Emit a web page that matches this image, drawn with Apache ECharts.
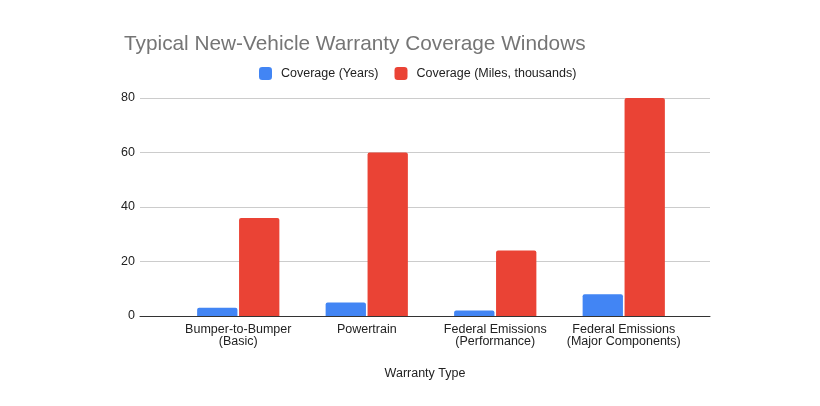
<!DOCTYPE html>
<html>
<head>
<meta charset="utf-8">
<script src="https://cdn.jsdelivr.net/npm/echarts@6/dist/echarts.min.js"></script>
<style>
  html, body { margin: 0; padding: 0; background: #fff; }
  #chart { width: 820px; height: 406px; }
</style>
</head>
<body>
<div id="chart"></div>
<script>
const categories = [
  'Bumper-to-Bumper\n(Basic)',
  'Powertrain',
  'Federal Emissions\n(Performance)',
  'Federal Emissions\n(Major Components)',
]
const years = [3, 5, 2, 8]
const miles = [36, 60, 24, 80]
const yTicks = { min: 0, max: 80, interval: 20 }

const font = 'Liberation Sans, Arial, sans-serif'
const chart = echarts.init(document.getElementById('chart'), null, { renderer: 'canvas' })

chart.setOption({
  animation: false,
  title: {
    text: 'Typical New-Vehicle Warranty Coverage Windows',
    left: 119,
    top: 29,
    textStyle: { fontFamily: font, fontSize: 20.8, fontWeight: 'normal', color: '#757575' },
  },
  legend: {
    top: 62,
    left: 254,
    itemWidth: 13,
    itemHeight: 13,
    itemGap: 16,
    icon: 'roundRect',
    textStyle: { fontFamily: font, fontSize: 12.5, color: '#222', padding: [0, 0, 0, 4] },
    data: ['Coverage (Years)', 'Coverage (Miles, thousands)'],
  },
  grid: [
    { left: 140, right: 110, top: 98, bottom: 90 },
    { left: 174, right: 132, top: 98, bottom: 90 },
  ],
  xAxis: [
    {
      gridIndex: 0,
      type: 'category',
      data: [''],
      axisLine: { lineStyle: { color: '#333' } },
      axisTick: { show: false },
      axisLabel: { show: false },
      name: 'Warranty Type',
      nameLocation: 'middle',
      nameGap: 51,
      nameTextStyle: { fontFamily: font, fontSize: 12.5, color: '#222' },
    },
    {
      gridIndex: 1,
      type: 'category',
      data: categories,
      axisLine: { show: false },
      axisTick: { show: false },
      axisLabel: { fontFamily: font, fontSize: 12.5, color: '#222', margin: 7, lineHeight: 12.5, interval: 0 },
    },
  ],
  yAxis: [
    {
      gridIndex: 0,
      type: 'value',
      ...yTicks,
      axisLine: { show: false },
      axisTick: { show: false },
      axisLabel: { fontFamily: font, fontSize: 12.5, color: '#222', margin: 5 },
      splitLine: { lineStyle: { color: '#ccc' } },
    },
    {
      gridIndex: 1,
      type: 'value',
      ...yTicks,
      show: false,
    },
  ],
  series: [
    {
      name: 'Coverage (Years)',
      type: 'bar',
      xAxisIndex: 1,
      yAxisIndex: 1,
      data: years,
      itemStyle: { color: '#4285F4', borderRadius: [2, 2, 0, 0] },
      barGap: '4%',
      barCategoryGap: '36%',
    },
    {
      name: 'Coverage (Miles, thousands)',
      type: 'bar',
      xAxisIndex: 1,
      yAxisIndex: 1,
      data: miles,
      itemStyle: { color: '#EA4335', borderRadius: [2, 2, 0, 0] },
      barGap: '4%',
      barCategoryGap: '36%',
    },
  ],
})
</script>
</body>
</html>
